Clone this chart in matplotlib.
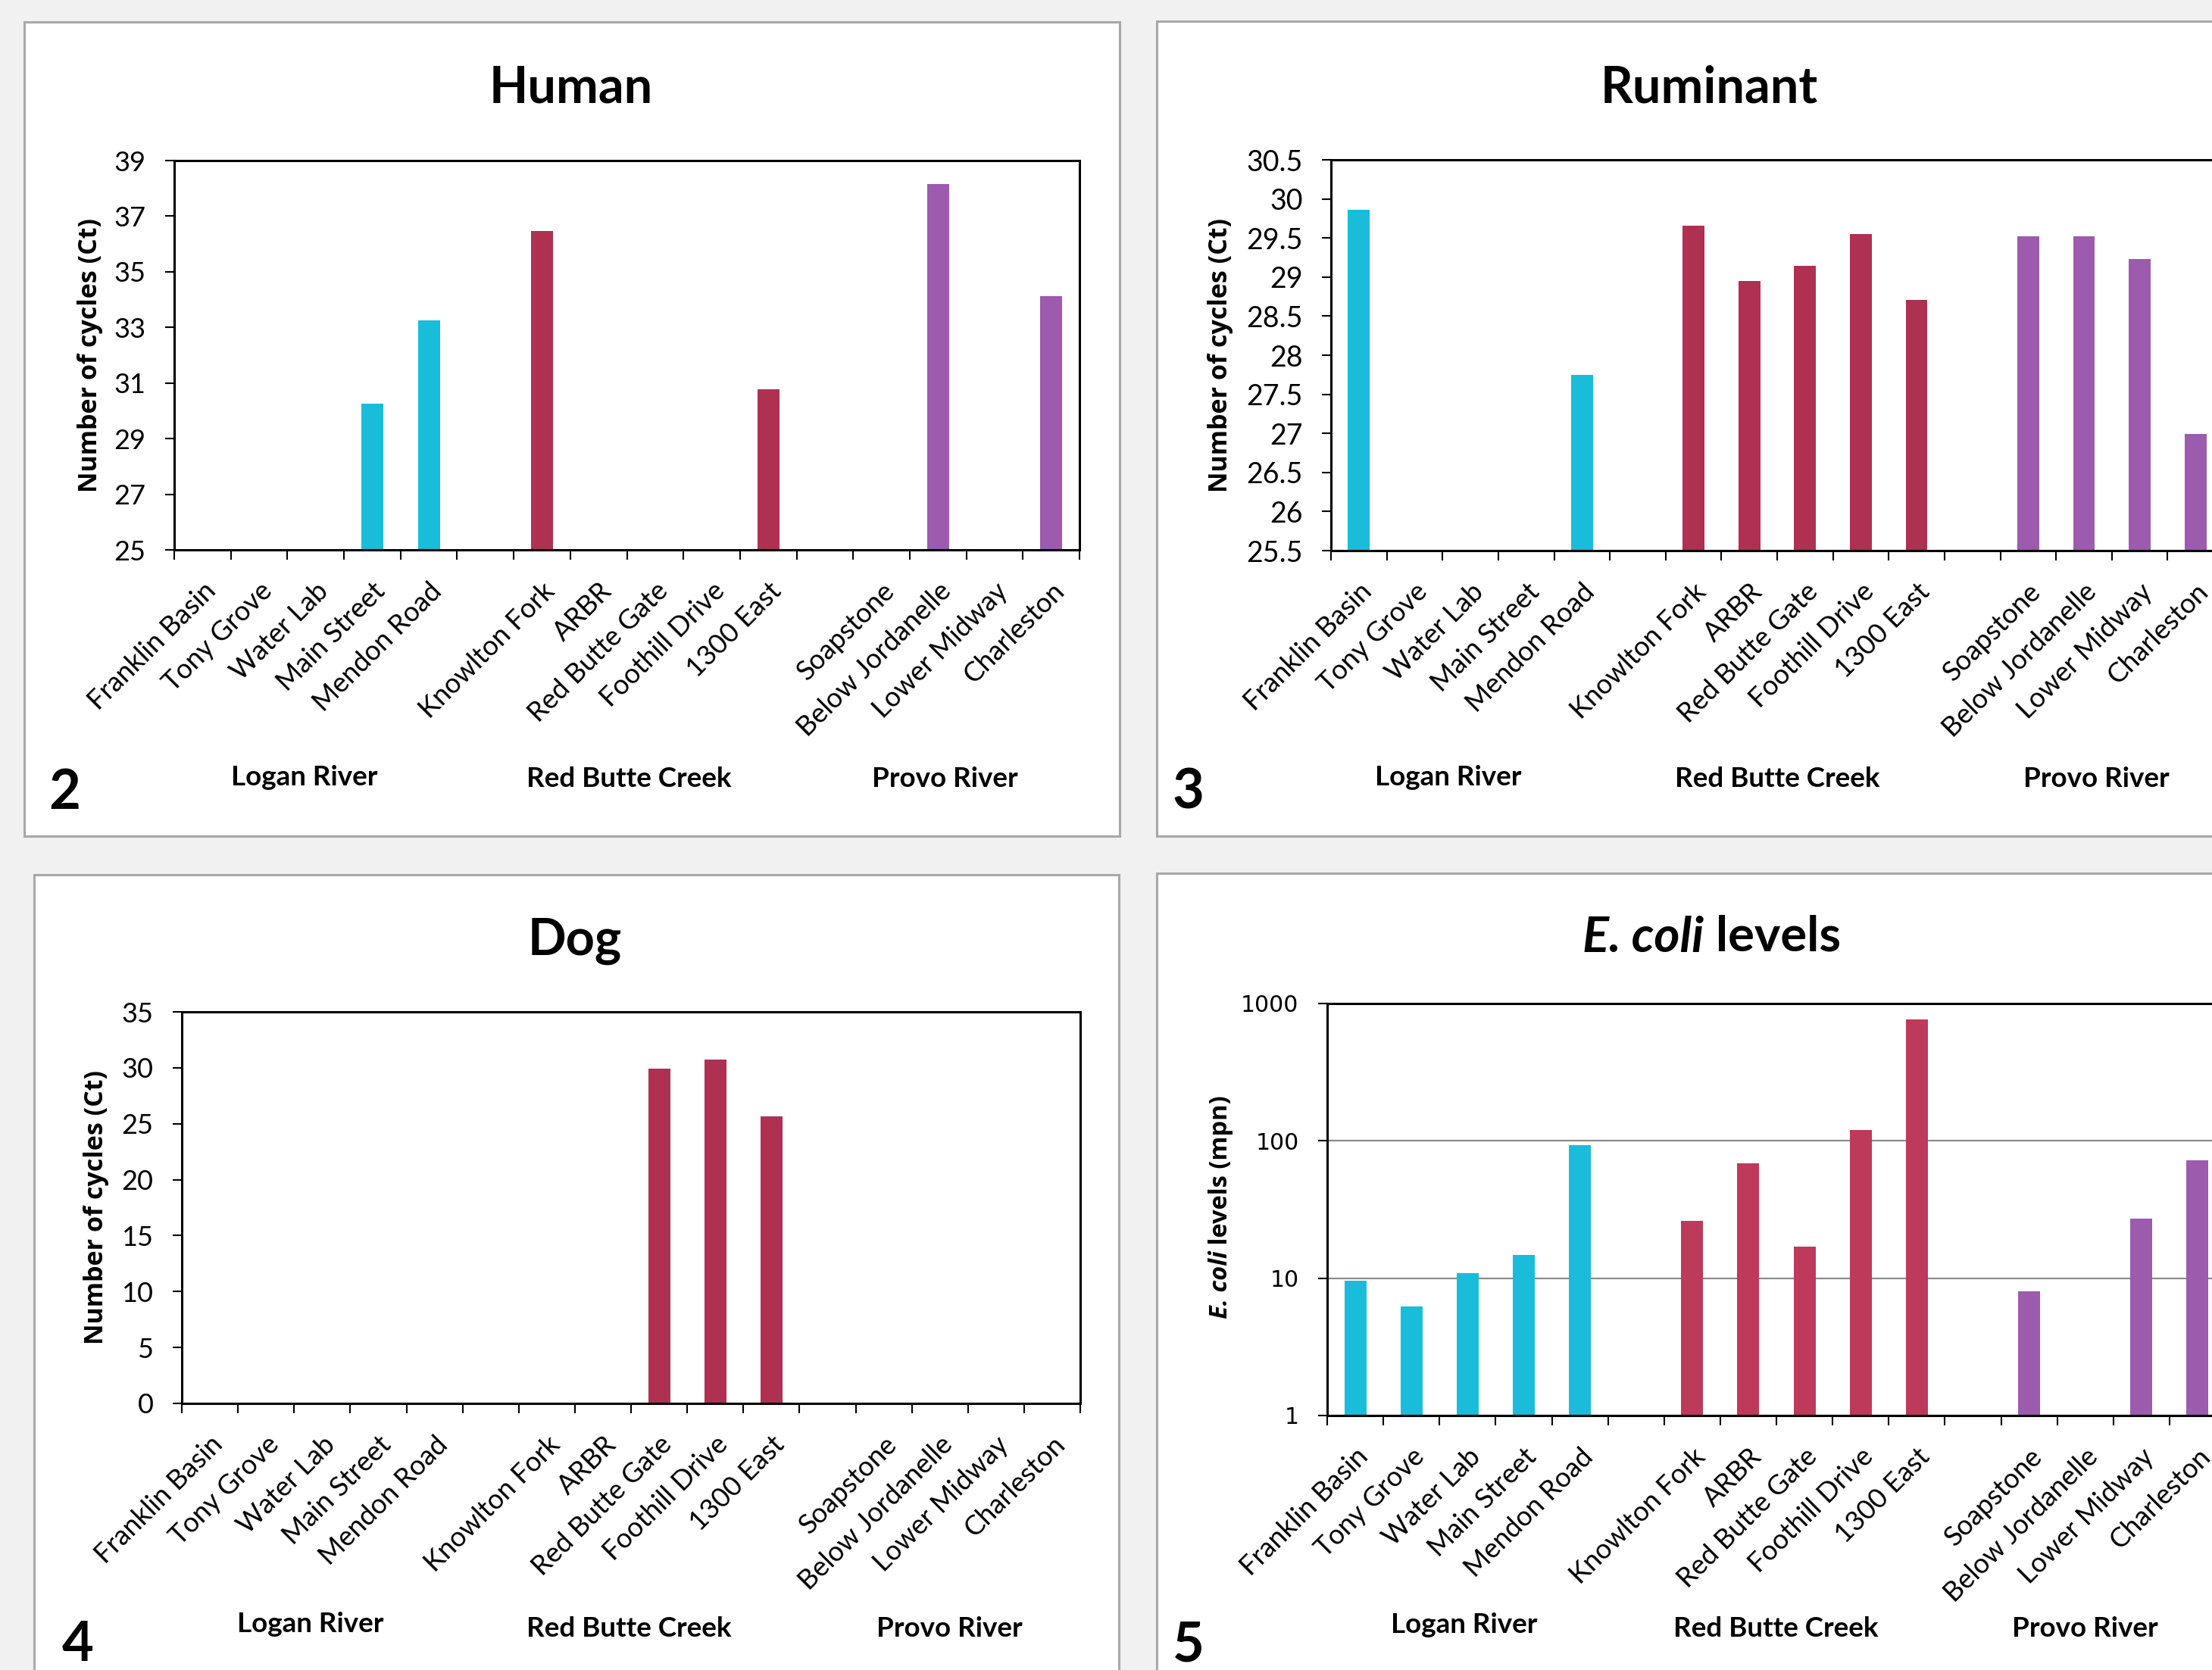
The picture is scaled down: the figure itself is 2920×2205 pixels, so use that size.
import numpy as np
import matplotlib
matplotlib.use("Agg")
import matplotlib.pyplot as plt
from matplotlib.patches import Rectangle
from matplotlib.text import Annotation
from matplotlib.ticker import NullLocator

nan = np.nan

# ---------------- data ----------------
sites = ["Franklin Basin", "Tony Grove", "Water Lab", "Main Street", "Mendon Road", "",
         "Knowlton Fork", "ARBR", "Red Butte Gate", "Foothill Drive", "1300 East", "",
         "Soapstone", "Below Jordanelle", "Lower Midway", "Charleston"]
site_group = [0, 0, 0, 0, 0, -1, 1, 1, 1, 1, 1, -1, 2, 2, 2, 2]
groups = ["Logan River", "Red Butte Creek", "Provo River"]

human_ct = [nan, nan, nan, 30.25, 33.25, nan, 36.46, nan, nan, nan, 30.77, nan,
            nan, 38.15, nan, 34.12]
ruminant_ct = [29.86, nan, nan, nan, 27.75, nan, 29.66, 28.95, 29.14, 29.55, 28.71, nan,
               29.52, 29.52, 29.23, 26.99]
dog_ct = [nan, nan, nan, nan, nan, nan, nan, nan, 29.94, 30.73, 25.67, nan,
          nan, nan, nan, nan]
ecoli_mpn = [9.6, 6.2, 10.9, 14.7, 93.5, nan, 26.2, 68.8, 16.9, 120.0, 768.0, nan,
             8.0, nan, 27.2, 72.0]

human_ticks = [25, 27, 29, 31, 33, 35, 37, 39]
ruminant_ticks = [25.5, 26, 26.5, 27, 27.5, 28, 28.5, 29, 29.5, 30, 30.5]
dog_ticks = [0, 5, 10, 15, 20, 25, 30, 35]
ecoli_ticks = [1, 10, 100, 1000]

colors_ct = ["#19BDD9", "#AE3152", "#9C5BAD"]
colors_ecoli = ["#19BDD9", "#BE3A5A", "#9C5BAD"]

# ---------------- figure ----------------
W, H = 2920, 2205
plt.rcParams["font.family"] = ["Lato", "DejaVu Sans"]
fig = plt.figure(figsize=(W / 100, H / 100), dpi=100, facecolor="#f1f1f1")


def fx(x):
    return x / W


def fy(y):
    return 1 - y / H


def panel_rect(x0, y0, x1, y1):
    fig.add_artist(Rectangle((fx(x0), fy(y1)), (x1 - x0) / W, (y1 - y0) / H,
                             transform=fig.transFigure, facecolor="white",
                             edgecolor="#a8a8a8", lw=2.2, zorder=-5))


def make_axes(left, top, right, bottom, values, colors, ticks, ylim,
              log=False, tick_font="Lato", tick_size=26, grid=False):
    ax = fig.add_axes([fx(left), fy(bottom), (right - left) / W, (bottom - top) / H])
    ax.set_facecolor("white")
    if log:
        ax.set_yscale("log")
    x = np.arange(len(sites)) + 0.5
    cols = [colors[g] if g >= 0 else "white" for g in site_group]
    vals = np.array(values, dtype=float)
    mask = ~np.isnan(vals)
    ax.bar(x[mask], vals[mask], width=0.39, color=np.array(cols)[mask], zorder=3)
    ax.set_xlim(0, len(sites))
    ax.set_ylim(*ylim)
    ax.set_xticks(np.arange(len(sites) + 1))
    ax.set_xticklabels([])
    ax.set_xticks(x, minor=True)
    ax.set_xticklabels(sites, minor=True, rotation=45, ha="right",
                       rotation_mode="anchor", fontsize=26)
    ax.set_yticks(ticks)
    ax.set_yticklabels(["%g" % t for t in ticks], fontsize=tick_size, family=tick_font)
    if log:
        ax.yaxis.set_minor_locator(NullLocator())
    ax.tick_params(axis="x", which="major", direction="out", length=9, width=1.5,
                   color="black")
    ax.tick_params(axis="x", which="minor", length=0, pad=27)
    ax.tick_params(axis="y", which="major", direction="out", length=9, width=1.5,
                   pad=18, color="black")
    for s in ax.spines.values():
        s.set_linewidth(2.2)
        s.set_color("black")
        s.set_zorder(4)
    if grid:
        ax.yaxis.grid(True, color="#8c8c8c", lw=1.6, zorder=1)
        ax.set_axisbelow(True)
    return ax


def title(cx, cy, s):
    fig.text(fx(cx), fy(cy), s, ha="center", va="center", fontsize=48, weight="bold")


def ylab(cx, cy, s):
    fig.text(fx(cx), fy(cy), s, ha="center", va="center", rotation=90, fontsize=24.5,
             weight="bold", family=["Open Sans", "DejaVu Sans"])


def group_labels(xs, ys):
    for g, x, y in zip(groups, xs, ys):
        fig.text(fx(x), fy(y), g, ha="center", va="baseline", fontsize=26.5, weight="bold")


def panel_no(x, y, s):
    fig.text(fx(x), fy(y), s, ha="left", va="baseline", fontsize=52, weight="bold")


# Panel 2 : Human
panel_rect(32, 29, 1478, 1104)
make_axes(230, 212, 1425, 726, human_ct, colors_ct, human_ticks, (25, 39))
title(754, 117, "Human")
ylab(119, 469, "Number of cycles (Ct)")
group_labels([402, 830, 1247], [1037, 1039, 1039])
panel_no(64, 1068, "2")

# Panel 3 : Ruminant
panel_rect(1527, 28, 2990, 1104)
make_axes(1757, 211, 2935, 727, ruminant_ct, colors_ct, ruminant_ticks, (25.5, 30.5),
          tick_size=27)
title(2256, 117, "Ruminant")
ylab(1611, 469, "Number of cycles (Ct)")
group_labels([1912, 2346, 2767], [1037, 1039, 1039])
panel_no(1548, 1068, "3")

# Panel 4 : Dog
panel_rect(45, 1155, 1477, 2260)
make_axes(240, 1336, 1426, 1853, dog_ct, colors_ct, dog_ticks, (0, 35))
title(759, 1243, "Dog")
ylab(127, 1594, "Number of cycles (Ct)")
group_labels([410, 830, 1253], [2155, 2161, 2161])
panel_no(82, 2193, "4")

# Panel 5 : E. coli
panel_rect(1527, 1153, 2990, 2260)
make_axes(1752, 1325, 2938, 1869, ecoli_mpn, colors_ecoli, ecoli_ticks, (1, 1000),
          log=True, tick_font="DejaVu Sans", tick_size=21.5, grid=True)
t1 = fig.text(fx(2089), fy(1238), "E. coli", ha="left", va="center", fontsize=47,
              weight="bold", style="italic")
fig.add_artist(Annotation(" levels", xy=(1, 0), xycoords=t1, ha="left", va="bottom",
                          fontsize=47, weight="bold"))
y1 = fig.text(fx(1611), fy(1741), "E. coli", ha="center", va="bottom", rotation=90,
              fontsize=23.5, weight="bold", style="italic",
              family=["Open Sans", "DejaVu Sans"])
fig.add_artist(Annotation(" levels (mpn)", xy=(0.5, 1), xycoords=y1, ha="center",
                          va="bottom", rotation=90, fontsize=23.5, weight="bold",
                          family=["Open Sans", "DejaVu Sans"]))
group_labels([1933, 2344, 2752], [2156, 2161, 2161])
panel_no(1548, 2193, "5")

fig.savefig("out.png", dpi=100, facecolor=fig.get_facecolor())
